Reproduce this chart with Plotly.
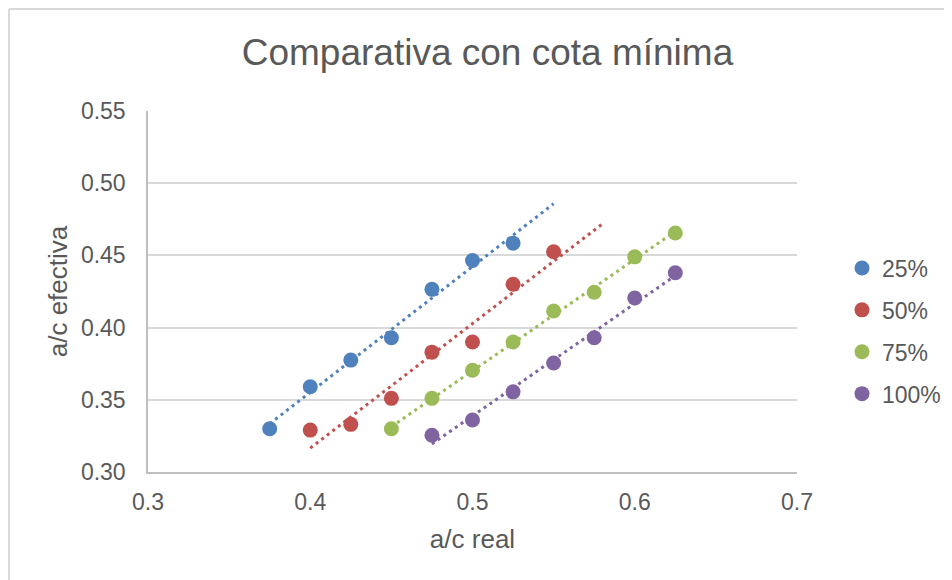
import numpy as np
import plotly.graph_objects as go

series_names = ["25%", "50%", "75%", "100%"]
colors = ["#4F81BD", "#C0504D", "#9BBB59", "#8064A2"]

x_25 = [0.375, 0.400, 0.425, 0.450, 0.475, 0.500, 0.525]
y_25 = [0.330, 0.359, 0.3775, 0.393, 0.4265, 0.4465, 0.4585]

x_50 = [0.400, 0.425, 0.450, 0.475, 0.500, 0.525, 0.550]
y_50 = [0.329, 0.333, 0.351, 0.383, 0.390, 0.430, 0.4525]

x_75 = [0.450, 0.475, 0.500, 0.525, 0.550, 0.575, 0.600, 0.625]
y_75 = [0.330, 0.351, 0.3705, 0.390, 0.4115, 0.4245, 0.449, 0.4655]

x_100 = [0.475, 0.500, 0.525, 0.550, 0.575, 0.600, 0.625]
y_100 = [0.3255, 0.336, 0.3555, 0.3755, 0.393, 0.4205, 0.438]

# trendline x-extent (start, end) for each series
trend_start = [0.375, 0.400, 0.450, 0.475]
trend_end = [0.550, 0.580, 0.625, 0.625]

x_ticks = [0.3, 0.4, 0.5, 0.6, 0.7]
y_ticks = [0.30, 0.35, 0.40, 0.45, 0.50, 0.55]

xs = [x_25, x_50, x_75, x_100]
ys = [y_25, y_50, y_75, y_100]

FONT = "Liberation Sans, Arial, sans-serif"
GREY = "#595959"

fig = go.Figure()

# trendlines (linear fit)
for i in range(4):
    m, b = np.polyfit(xs[i], ys[i], 1)
    tx = [trend_start[i], trend_end[i]]
    ty = [m * v + b for v in tx]
    fig.add_trace(go.Scatter(
        x=tx, y=ty, mode="lines",
        line=dict(color=colors[i], width=3, dash="3px,4px"),
        showlegend=False, hoverinfo="skip"))

for i in range(4):
    fig.add_trace(go.Scatter(
        x=xs[i], y=ys[i], mode="markers", name=series_names[i],
        legendgroup=series_names[i],
        marker=dict(color=colors[i], size=15, line=dict(width=0))))

OFF = 8  # page body offset
W, H = 952 - OFF, 580 - OFF
px_l, px_r, px_t, px_b = 148 - OFF, 797 - OFF, 111 - OFF, 472 - OFF

def xp(page_x):
    return (page_x - OFF - px_l) / (px_r - px_l)

def yp(page_y):
    return (px_b - (page_y - OFF)) / (px_b - px_t)

fig.update_layout(
    width=W, height=H,
    margin=dict(l=px_l, r=W - px_r, t=px_t, b=H - px_b, autoexpand=False),
    paper_bgcolor="white", plot_bgcolor="white",
    font=dict(family=FONT, color=GREY, size=23),
    title=dict(text="Comparativa con cota mínima", x=xp(487.5), xref="paper",
               xanchor="center", y=1 - (52 - OFF) / H, yanchor="middle",
               font=dict(family=FONT, size=37, color=GREY)),
    xaxis=dict(range=[0.3, 0.7], tickvals=x_ticks,
               ticktext=[f"{v:.1f}" for v in x_ticks],
               showgrid=False, zeroline=False, automargin=False,
               showline=True, linecolor="#BFBFBF", linewidth=1.5,
               ticks="outside", ticklen=9, tickcolor="rgba(0,0,0,0)",
               tickfont=dict(size=23, color=GREY, family=FONT),
               title=dict(text="a/c real", standoff=15,
                          font=dict(size=26, color=GREY, family=FONT))),
    yaxis=dict(range=[0.30, 0.55], tickvals=y_ticks,
               ticktext=[f"{v:.2f}" for v in y_ticks],
               showgrid=True, gridcolor="#D9D9D9", gridwidth=1.5,
               zeroline=False, automargin=False,
               showline=True, linecolor="#BFBFBF", linewidth=1.5,
               ticks="outside", ticklen=16, tickcolor="rgba(0,0,0,0)",
               tickfont=dict(size=23, color=GREY, family=FONT),
               title=dict(text="a/c efectiva", standoff=6,
                          font=dict(size=26, color=GREY, family=FONT))),
    legend=dict(x=xp(842), xanchor="left", y=yp(331), yanchor="middle",
                font=dict(size=23, color=GREY, family=FONT),
                tracegroupgap=9, bgcolor="rgba(0,0,0,0)"),
    showlegend=True,
)

# chart-area border (partially cropped in reference)
fig.add_shape(type="line", xref="paper", yref="paper",
              x0=xp(9), x1=xp(980), y0=yp(9), y1=yp(9),
              line=dict(color="#D9D9D9", width=2))
fig.add_shape(type="line", xref="paper", yref="paper",
              x0=xp(9), x1=xp(9), y0=yp(9), y1=yp(600),
              line=dict(color="#D9D9D9", width=2))

fig.write_html("out.html")
